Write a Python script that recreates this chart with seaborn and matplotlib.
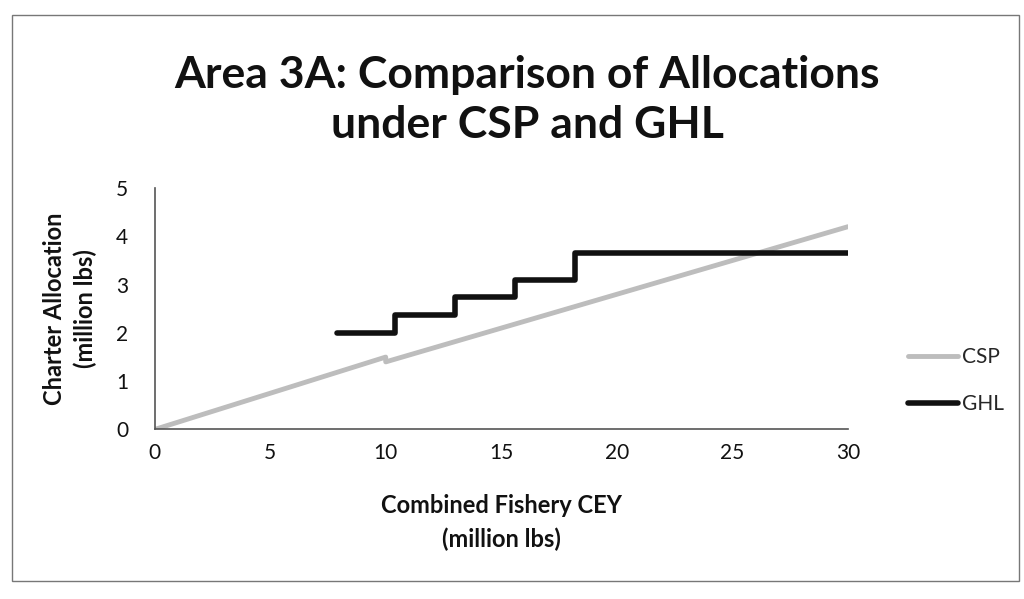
import matplotlib
matplotlib.use("Agg")
import matplotlib.pyplot as plt
import seaborn as sns
import pandas as pd
from matplotlib.patches import Rectangle
from matplotlib.lines import Line2D

# Combined fishery CEY (million lbs)
csp_cey = [0, 10, 10, 30]
# Charter allocation under the catch sharing plan (million lbs)
csp_alloc = [0, 1.50, 1.40, 4.20]

# GHL step thresholds (CEY) and GHL levels (million lbs)
ghl_cey = [7.9, 10.4, 13.0, 15.6, 18.2, 30]
ghl_levels = [1.99, 2.37, 2.74, 3.10, 3.65]

# Build the step path for the GHL series
ghl_x, ghl_y = [], []
for i, lvl in enumerate(ghl_levels):
    ghl_x += [ghl_cey[i], ghl_cey[i + 1]]
    ghl_y += [lvl, lvl]

csp_df = pd.DataFrame({"CEY": csp_cey, "Allocation": csp_alloc, "Series": "CSP"})
ghl_df = pd.DataFrame({"CEY": ghl_x, "Allocation": ghl_y, "Series": "GHL"})

sns.set_theme(style="white")
plt.rcParams["font.family"] = ["Lato", "DejaVu Sans"]

fig = plt.figure(figsize=(10.24, 5.99), dpi=100)
ax = fig.add_axes([0.151, 0.283, 0.677, 0.403])

palette = {"CSP": "#bdbdbd", "GHL": "#111111"}
sns.lineplot(data=csp_df, x="CEY", y="Allocation", color=palette["CSP"],
             linewidth=3.5, sort=False, estimator=None, ax=ax, legend=False)
sns.lineplot(data=ghl_df, x="CEY", y="Allocation", color=palette["GHL"],
             linewidth=4, sort=False, estimator=None, ax=ax, legend=False)

ax.set_xlim(0, 30)
ax.set_ylim(0, 5)
ax.set_xticks(range(0, 31, 5))
ax.set_yticks(range(0, 6))
for side in ("top", "right"):
    ax.spines[side].set_visible(False)
for side in ("left", "bottom"):
    ax.spines[side].set_color("#555555")
    ax.spines[side].set_linewidth(1.2)
ax.tick_params(axis="both", direction="out", length=5, width=1.2, color="#555555",
               labelsize=15, labelcolor="#111111")
ax.tick_params(axis="x", pad=5)
ax.tick_params(axis="y", pad=14)

ax.set_xlabel("Combined Fishery CEY\n(million lbs)", fontsize=17, fontweight="bold",
              color="#111111", labelpad=22, linespacing=1.55)
ax.set_ylabel("Charter Allocation\n(million lbs)", fontsize=17, fontweight="bold",
              color="#111111", labelpad=14, linespacing=1.35)

fig.text(0.515, 0.833, "Area 3A: Comparison of Allocations\nunder CSP and GHL",
         ha="center", va="center", fontsize=32, fontweight="bold", color="#111111",
         linespacing=1.3)

handles = [Line2D([], [], color=palette["CSP"], linewidth=3.5),
           Line2D([], [], color=palette["GHL"], linewidth=4)]
fig.legend(handles, ["CSP", "GHL"], loc="center left", bbox_to_anchor=(0.868, 0.365),
           frameon=False, fontsize=15, handlelength=2.4, handletextpad=0.2,
           labelspacing=1.3)

# outer chart border
fig.patches.append(Rectangle((0.012, 0.03), 0.983, 0.945, transform=fig.transFigure,
                             fill=False, edgecolor="#777777", linewidth=1.0))

fig.savefig("out.png", dpi=100, facecolor="white")
